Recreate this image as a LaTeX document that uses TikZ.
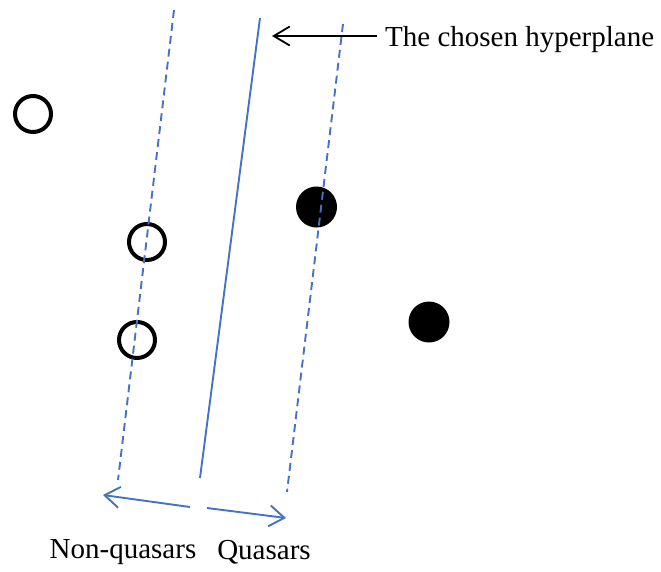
\documentclass[tikz,border=0pt]{standalone}
\usepackage{fontspec}
\setmainfont{Liberation Serif}
\usetikzlibrary{arrows.meta}
\definecolor{lineblue}{RGB}{68,114,196}
\tikzset{
  opendot/.style={circle,draw=black,line width=4pt,minimum size=36pt,inner sep=0pt},
  fulldot/.style={circle,fill=black,minimum size=41pt,inner sep=0pt},
  margin/.style={draw=lineblue,line width=1.9pt,dash pattern=on 8pt off 5pt},
  hyper/.style={draw=lineblue,line width=1.9pt},
  sidearrow/.style={draw=lineblue,line width=1.9pt,-{Straight Barb[length=15pt,width=21pt,line width=1.9pt]}},
  callout/.style={draw=black,line width=1.8pt,-{Straight Barb[length=16pt,width=19pt,line width=1.8pt]}},
  lbl/.style={font=\fontsize{29}{34}\selectfont,inner sep=0pt}
}
\begin{document}
\begin{tikzpicture}[x=1pt,y=-1pt]
\useasboundingbox (0,0) rectangle (661,571);
% data points
\node[opendot] (n1) at (33,114) {};
\node[opendot] (n2) at (147,242) {};
\node[opendot] (n3) at (137,340) {};
\node[fulldot] (q1) at (316.5,207) {};
\node[fulldot] (q2) at (429,322) {};
% lines
\coordinate (lt) at (174,10);
\coordinate (lb) at (118,480);
\coordinate (ht) at (260,18);
\coordinate (hb) at (200,478);
\coordinate (rt) at (343,24);
\coordinate (rb) at (287,492);
\draw[margin] (lt) -- (lb);
\draw[hyper] (ht) -- (hb);
\draw[margin] (rt) -- (rb);
% bottom arrows
\coordinate (a1s) at (190,507);
\coordinate (a1e) at (103,495);
\coordinate (a2s) at (207,508);
\coordinate (a2e) at (286,518);
\draw[sidearrow] (a1s) -- (a1e);
\draw[sidearrow] (a2s) -- (a2e);
% labels
\node[lbl,anchor=west] (ttl) at (385,40) {The chosen hyperplane};
\coordinate (cs) at (377,36);
\coordinate (ce) at (272,36);
\draw[callout] (cs) -- (ce);
\node[lbl] (nq) at (123,552) {Non-quasars};
\node[lbl] (qs) at (264,552) {Quasars};
\end{tikzpicture}
\end{document}
